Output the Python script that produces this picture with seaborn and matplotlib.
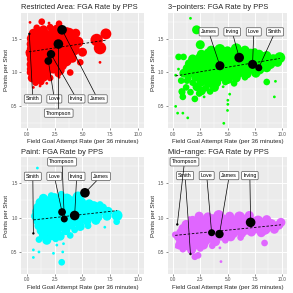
import pandas as pd
import numpy as np
import matplotlib
matplotlib.use('Agg')
import matplotlib.pyplot as plt
import seaborn as sns

# ---- Restricted area ----
ra_x = [0.9, 1.5, 2.1, 2.7, 3.6,
        0.6, 1.2, 1.8, 2.4, 3.0, 3.8,
        0.5, 1.0, 1.6, 2.2, 2.9, 3.5, 4.1,
        0.4, 0.9, 1.4, 2.0, 2.6, 3.2, 3.9, 4.4,
        0.5, 1.1, 1.7, 2.3, 3.0, 3.6, 4.2,
        0.4, 0.9, 1.5, 2.1, 2.7, 3.3, 3.9,
        0.5, 1.0, 1.6, 2.3, 2.9, 3.5, 4.1,
        0.4, 0.9, 1.4, 2.0, 2.6, 3.2,
        0.5, 1.1, 1.7, 2.4, 3.0,
        0.6, 1.2, 1.8, 2.8,
        0.5, 0.9, 1.5, 2.1,
        0.8, 1.3, 1.8,
        0.6, 1.2, 2.9, 0.3, 1.35, 2.0, 2.9, 4.4, 4.6, 5.0, 6.27, 7.1, 6.57, 6.57, 4.8, 3.9, 0.3, 0.2]
ra_y = [1.66, 1.63, 1.67, 1.64, 1.62,
        1.58, 1.59, 1.56, 1.60, 1.57, 1.58,
        1.50, 1.52, 1.49, 1.51, 1.48, 1.50, 1.52,
        1.42, 1.44, 1.41, 1.43, 1.40, 1.42, 1.44, 1.41,
        1.35, 1.34, 1.36, 1.33, 1.35, 1.37, 1.34,
        1.28, 1.27, 1.29, 1.26, 1.28, 1.27, 1.29,
        1.20, 1.21, 1.19, 1.22, 1.20, 1.18, 1.21,
        1.12, 1.13, 1.11, 1.12, 1.14, 1.10,
        1.05, 1.04, 1.06, 1.05, 1.03,
        0.98, 0.97, 0.99, 0.98,
        0.92, 0.91, 0.93, 0.92,
        0.85, 0.86, 0.84,
        0.78, 0.80, 0.93, 1.74, 1.75, 1.73, 1.72, 1.58, 1.45, 1.30, 1.48, 1.57, 1.36, 1.15, 1.15, 1.00, 1.00, 1.30]
ra_s = [2, 3, 2, 3, 2,
        3, 4, 3, 4, 3, 4,
        4, 4, 5, 4, 4, 5, 3,
        3, 5, 4, 5, 4, 5, 4, 3,
        4, 5, 5, 4, 5, 4, 5,
        4, 4, 5, 5, 4, 4, 3,
        4, 5, 4, 5, 4, 5, 3,
        3, 4, 5, 4, 4, 3,
        4, 4, 4, 3, 3,
        3, 4, 3, 2,
        3, 2, 3, 2,
        2, 2, 1,
        1, 1, 1, 1, 2, 1, 2, 3, 4, 3, 5, 4, 5, 1, 2, 2, 2, 2]

# ---- 3-pointers ----
tp_x = [3.5, 4.3, 5.0, 5.8, 6.6, 7.5,
        2.6, 3.3, 4.0, 4.8, 5.5, 6.3, 7.1, 7.9, 8.6,
        1.8, 2.5, 3.2, 3.9, 4.6, 5.4, 6.1, 6.8, 7.6, 8.4, 9.2, 9.8,
        1.5, 2.2, 2.9, 3.6, 4.3, 5.0, 5.8, 6.5, 7.3, 8.1, 8.9, 9.6,
        1.3, 2.0, 2.7, 3.4, 4.1, 4.9, 5.6, 6.3, 7.1, 7.9, 8.6,
        1.0, 1.7, 2.4, 3.1, 3.8, 4.6, 5.3, 6.0, 6.8, 7.6,
        1.4, 2.1, 2.8, 3.5, 4.3, 5.0, 5.8, 6.6,
        1.8, 2.6, 3.3, 4.0, 4.8, 5.6,
        1.2, 2.2, 3.0, 3.8, 4.6,
        0.8, 1.6, 2.6, 3.4,
        1.6, 2.16, 2.5, 0.51, 0.96, 0.5, 0.24, 0.75, 1.28, 0.84, 0.9, 0.24, 0.42, 0.9, 1.35,
        4.66, 5.0, 5.03, 5.03, 2.0, 2.85, 2.4, 5.2, 9.3, 8.6, 9.4]
tp_y = [1.33, 1.34, 1.32, 1.35, 1.33, 1.31,
        1.27, 1.28, 1.26, 1.29, 1.27, 1.28, 1.26, 1.27, 1.25,
        1.20, 1.21, 1.19, 1.22, 1.20, 1.21, 1.19, 1.22, 1.20, 1.21, 1.19, 1.22,
        1.13, 1.12, 1.14, 1.13, 1.11, 1.14, 1.12, 1.13, 1.14, 1.12, 1.13, 1.15,
        1.06, 1.05, 1.07, 1.06, 1.05, 1.07, 1.06, 1.04, 1.06, 1.05, 1.07,
        0.99, 1.00, 0.98, 0.99, 1.00, 0.98, 0.99, 1.00, 0.98, 0.99,
        0.92, 0.93, 0.91, 0.92, 0.93, 0.91, 0.92, 0.93,
        0.85, 0.86, 0.84, 0.85, 0.86, 0.84,
        0.78, 0.79, 0.77, 0.78, 0.79,
        0.72, 0.71, 0.73, 0.72,
        1.80, 1.63, 1.41, 1.23, 1.23, 1.05, 0.96, 0.88, 0.88, 0.71, 0.64, 0.50, 0.40, 0.40, 0.33,
        0.25, 0.44, 0.53, 0.59, 0.61, 0.64, 0.69, 0.68, 0.64, 0.86, 0.87]
tp_s = [3, 4, 3, 4, 3, 2,
        3, 4, 5, 4, 5, 4, 5, 3, 3,
        3, 4, 5, 4, 5, 4, 5, 5, 4, 5, 4, 4,
        3, 4, 5, 5, 4, 5, 4, 5, 4, 5, 4, 3,
        3, 4, 4, 5, 4, 5, 4, 5, 4, 4, 3,
        3, 3, 4, 4, 5, 4, 4, 4, 3, 3,
        2, 3, 4, 4, 3, 4, 3, 2,
        2, 3, 3, 3, 2, 2,
        2, 3, 2, 3, 1,
        2, 2, 3, 2,
        1, 3, 3, 2, 2, 1, 1, 2, 2, 2, 2, 1, 1, 1, 1,
        1, 1, 1, 1, 2, 1, 2, 1, 1, 2, 1]

# ---- Paint ----
pt_x = [1.5, 2.5, 3.6, 4.6,
        1.2, 1.9, 2.6, 3.3, 4.0, 4.8, 5.6,
        1.0, 1.6, 2.3, 3.0, 3.7, 4.4, 5.2, 6.0, 6.8,
        0.9, 1.5, 2.1, 2.8, 3.5, 4.2, 5.0, 5.8, 6.5, 7.3,
        0.8, 1.4, 2.0, 2.7, 3.4, 4.1, 4.9, 5.7, 6.4, 7.2, 8.1,
        1.0, 1.6, 2.3, 3.0, 3.8, 4.6, 5.4, 6.2,
        1.1, 1.8, 2.5, 3.2, 4.0, 4.8, 5.5,
        1.3, 2.0, 2.7, 3.5, 4.3,
        1.5, 2.3, 3.0, 3.9,
        1.1, 1.8, 2.6,
        0.96, 0.6, 0.6, 1.1, 1.8, 2.7, 3.14, 3.23, 2.4, 3.3, 8.06, 7.0, 6.57, 2.2, 3.1]
pt_y = [1.28, 1.29, 1.27, 1.30,
        1.22, 1.23, 1.21, 1.22, 1.23, 1.21, 1.20,
        1.15, 1.16, 1.14, 1.15, 1.16, 1.14, 1.15, 1.16, 1.14,
        1.09, 1.08, 1.10, 1.09, 1.08, 1.10, 1.09, 1.08, 1.10, 1.09,
        1.02, 1.03, 1.01, 1.02, 1.03, 1.01, 1.02, 1.03, 1.01, 1.02, 1.03,
        0.95, 0.96, 0.94, 0.95, 0.96, 0.94, 0.95, 0.96,
        0.88, 0.89, 0.87, 0.88, 0.89, 0.87, 0.88,
        0.81, 0.82, 0.80, 0.81, 0.82,
        0.74, 0.75, 0.73, 0.74,
        0.68, 0.67, 0.69,
        1.72, 0.53, 0.42, 0.50, 0.64, 0.60, 0.35, 0.50, 0.48, 0.62, 0.94, 0.86, 1.19, 1.32, 1.34]
pt_s = [3, 3, 4, 4,
        3, 4, 4, 5, 4, 5, 3,
        3, 4, 5, 4, 5, 4, 5, 4, 3,
        3, 4, 5, 5, 4, 5, 4, 4, 4, 3,
        3, 4, 4, 5, 4, 5, 4, 4, 3, 3, 4,
        3, 4, 5, 4, 4, 4, 3, 3,
        3, 4, 4, 4, 3, 3, 2,
        3, 4, 3, 3, 2,
        3, 4, 3, 2,
        2, 3, 2,
        1, 1, 1, 1, 1, 1, 2, 1, 1, 1, 2, 1, 2, 2, 2]

# ---- Mid-range ----
mr_x = [2.4, 3.2, 4.2, 5.2, 6.1, 7.0,
        1.8, 2.7, 3.6, 4.5, 5.4, 6.2, 7.0, 7.8, 8.6, 9.9,
        1.2, 2.0, 2.9, 3.8, 4.7, 5.6, 6.4, 7.3, 8.1, 9.0, 9.7,
        0.9, 1.6, 2.4, 3.2, 4.1, 5.0, 5.9, 6.7, 7.6, 8.4, 9.3,
        0.7, 1.4, 2.1, 2.9, 3.8, 4.7, 5.5, 6.3, 7.2, 8.1,
        0.5, 1.2, 1.9, 2.7, 3.5, 4.4, 5.3, 6.2,
        0.7, 1.4, 2.2, 3.0, 3.9, 4.8,
        0.6, 1.2, 2.0, 2.8, 3.6,
        0.9, 1.7, 2.5,
        4.4, 0.3, 2.0, 2.3, 0.2, 8.4, 4.3, 1.5]
mr_y = [1.02, 1.01, 1.03, 1.02, 1.01, 1.03,
        0.96, 0.95, 0.97, 0.96, 0.95, 0.97, 0.96, 0.95, 0.97, 0.93,
        0.90, 0.89, 0.91, 0.90, 0.89, 0.91, 0.90, 0.89, 0.91, 0.90, 0.89,
        0.84, 0.83, 0.85, 0.84, 0.83, 0.85, 0.84, 0.83, 0.85, 0.84, 0.83,
        0.78, 0.77, 0.79, 0.78, 0.77, 0.79, 0.78, 0.77, 0.79, 0.78,
        0.72, 0.71, 0.73, 0.72, 0.71, 0.73, 0.72, 0.71,
        0.66, 0.65, 0.67, 0.66, 0.65, 0.67,
        0.60, 0.59, 0.61, 0.60, 0.59,
        0.54, 0.53, 0.55,
        0.36, 0.57, 0.43, 0.45, 0.75, 0.63, 0.56, 1.00]
mr_s = [3, 3, 4, 3, 4, 3,
        3, 4, 4, 5, 4, 5, 4, 4, 3, 3,
        3, 4, 5, 4, 5, 4, 5, 4, 4, 4, 3,
        3, 4, 4, 5, 4, 5, 4, 4, 4, 5, 3,
        3, 4, 4, 4, 5, 4, 4, 3, 3, 3,
        3, 4, 4, 4, 4, 3, 3, 2,
        3, 4, 4, 3, 3, 2,
        3, 3, 4, 3, 2,
        2, 3, 2,
        1, 1, 2, 2, 2, 2, 1, 1]

# ---- highlighted players ----
players = ['Smith', 'Love', 'Irving', 'James', 'Thompson']
ra_px = [0.24, 1.94, 2.18, 3.17, 2.84]
ra_py = [1.57, 1.17, 1.27, 1.63, 1.42]
ra_ps = [1, 3.5, 4, 5, 5]
tp_px = [7.87, 7.3, 6.07, 4.3]
tp_py = [1.07, 1.12, 1.22, 1.10]
tp_ps = [3, 4.5, 5, 4.5]
pt_px = [0.6, 3.17, 4.3, 5.22, 3.37]
pt_py = [0.77, 1.08, 1.03, 1.36, 0.98]
pt_ps = [1, 3.5, 5, 5, 3]
mr_px = [1.6, 3.54, 7.12, 4.26, 0.39]
mr_py = [0.47, 0.78, 0.93, 0.76, 0.90]
mr_ps = [1, 3, 5, 4, 1]

# linear fit (intercept, slope)
fits = {'ra': (1.30, 0.025), 'tp': (0.943, 0.027), 'pt': (0.955, 0.018), 'mr': (0.738, 0.0158)}

sns.set_theme(style='darkgrid', rc={'axes.facecolor': '#EBEBEB', 'grid.color': 'white'})
plt.rcParams['font.family'] = ['Liberation Sans', 'DejaVu Sans']

fig = plt.figure(figsize=(2.93, 2.93), dpi=100)
fig.patch.set_facecolor('white')

panels = [
    ('ra', 'Restricted Area: FGA Rate by PPS', '#FF0000', ra_x, ra_y, ra_s,
     players, ra_px, ra_py, ra_ps, [0.072, 0.563, 0.419, 0.393],
     {'Smith': (0.55, 0.61), 'Love': (2.48, 0.61), 'Irving': (4.48, 0.61),
      'James': (6.36, 0.61), 'Thompson': (2.87, 0.40)}),
    ('tp', '3\u2212pointers: FGA Rate by PPS', '#00FF00', tp_x, tp_y, tp_s,
     players[:4], tp_px, tp_py, tp_ps, [0.572, 0.563, 0.409, 0.393],
     {'Smith': (9.37, 1.60), 'Love': (7.41, 1.60), 'Irving': (5.43, 1.60),
      'James': (3.27, 1.60)}),
    ('pt', 'Paint: FGA Rate by PPS', '#00FFFF', pt_x, pt_y, pt_s,
     players, pt_px, pt_py, pt_ps, [0.072, 0.065, 0.419, 0.399],
     {'Smith': (0.55, 1.60), 'Love': (2.48, 1.60), 'Irving': (4.48, 1.60),
      'James': (6.65, 1.60), 'Thompson': (3.17, 1.81)}),
    ('mr', 'Mid\u2212range: FGA Rate by PPS', '#E066FF', mr_x, mr_y, mr_s,
     players, mr_px, mr_py, mr_ps, [0.572, 0.065, 0.409, 0.399],
     {'Smith': (1.11, 1.61), 'Love': (3.09, 1.61), 'Irving': (7.05, 1.61),
      'James': (5.16, 1.61), 'Thompson': (1.05, 1.81)}),
]

for key, title, color, xs, ys, ss, names, pxs, pys, pss, rect, lab in panels:
    ax = fig.add_axes(rect)
    df = pd.DataFrame({'x': xs, 'y': ys, 's': ss})
    sns.scatterplot(data=df, x='x', y='y', size='s', sizes=(4, 80), size_norm=(1, 5),
                    color=color, linewidth=0, edgecolor='none', legend=False, ax=ax, zorder=2)
    hl = pd.DataFrame({'x': pxs, 'y': pys, 's': pss, 'name': names})
    sns.scatterplot(data=hl, x='x', y='y', size='s', sizes=(3, 48), size_norm=(1, 5),
                    color='black', linewidth=0, edgecolor='none', legend=False, ax=ax, zorder=4)
    b0, b1 = fits[key]
    xr = np.array([df['x'].min(), df['x'].max()])
    ax.plot(xr, b0 + b1 * xr, color='black', lw=0.6, ls=(0, (3, 2)), zorder=3)
    for _, r in hl.iterrows():
        lx, ly = lab[r['name']]
        ax.annotate(r['name'], xy=(r['x'], r['y']), xytext=(lx, ly), textcoords='data',
                    ha='center', va='center', fontsize=3.9, color='black', zorder=5,
                    bbox=dict(boxstyle='round,pad=0.3,rounding_size=0.2', fc='white',
                              ec='#555555', lw=0.5),
                    arrowprops=dict(arrowstyle='-', color='black', lw=0.5,
                                    shrinkA=0, shrinkB=0))
    ax.set_xlim(-0.5, 10.5)
    ax.set_ylim(0.18, 1.88)
    ax.set_xticks([0, 2.5, 5, 7.5, 10])
    ax.set_xticklabels(['0.0', '2.5', '5.0', '7.5', '10.0'])
    ax.set_yticks([0.5, 1.0, 1.5])
    ax.set_yticklabels(['0.5', '1.0', '1.5'])
    ax.set_xticks([1.25, 3.75, 6.25, 8.75], minor=True)
    ax.set_yticks([0.25, 0.75, 1.25, 1.75], minor=True)
    ax.grid(which='major', color='white', lw=0.7)
    ax.grid(which='minor', color='white', lw=0.35)
    ax.tick_params(which='major', labelsize=3.3, labelcolor='#4D4D4D', length=1.5,
                   width=0.4, color='#333333', pad=1, bottom=True, left=True)
    ax.tick_params(which='minor', length=0)
    for sp in ax.spines.values():
        sp.set_visible(False)
    ax.set_xlabel('Field Goal Attempt Rate (per 36 minutes)', fontsize=4.4, labelpad=1.5)
    ax.set_ylabel('Points per Shot', fontsize=4.4, labelpad=1.5)
    ax.set_title(title, loc='left', fontsize=5.4, pad=2.5)

fig.savefig('out.png', dpi=100)
